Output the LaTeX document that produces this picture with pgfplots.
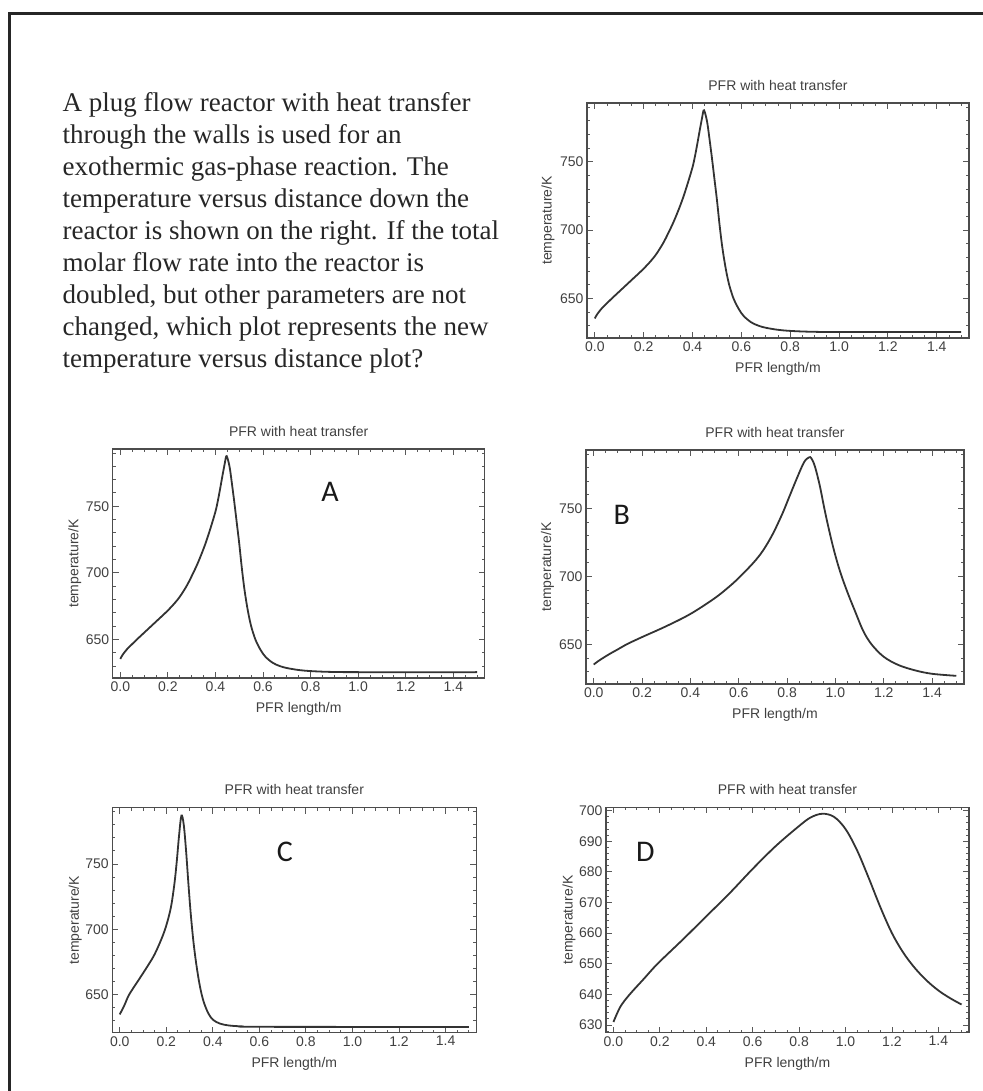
\documentclass[border=0pt]{standalone}
\usepackage{fontspec}
\setmainfont{Liberation Serif}
\setsansfont{Liberation Sans}
\newfontfamily\carlito{Carlito}
\usepackage{pgfplots}
\pgfplotsset{compat=1.18}

\tikzset{letter/.style={font=\carlito\fontsize{30}{30}\selectfont, inner sep=0pt, text=black!90}}

\pgfplotsset{
  pfr/.style={
    scale only axis,
    title={PFR with heat transfer},
    xlabel={PFR length/m},
    ylabel={temperature/K},
    xmin=-0.032, xmax=1.532,
    xtick={0,0.2,0.4,0.6,0.8,1.0,1.2,1.4},
    minor xtick={0.05,0.1,0.15,0.25,0.3,0.35,0.45,0.5,0.55,0.65,0.7,0.75,0.85,0.9,0.95,1.05,1.1,1.15,1.25,1.3,1.35,1.45,1.5},
    tick align=inside,
    major tick length=6pt, minor tick length=3pt,
    tick style={black!65, line width=0.9pt},
    axis line style={black!70, line width=1.2pt},
    /pgf/number format/assume math mode=true,
    tick label style={font=\sffamily\fontsize{14}{16}\selectfont, text=black!75},
    xticklabel style={/pgf/number format/.cd, fixed, fixed zerofill, precision=1},
    every axis title/.style={at={(axis description cs:0.5,1)}, anchor=center, yshift=18pt,
      font=\sffamily\fontsize{14}{16}\selectfont, text=black!75},
    every axis x label/.style={at={(axis description cs:0.5,0)}, anchor=center, yshift=-31pt,
      font=\sffamily\fontsize{14}{16}\selectfont, text=black!75},
    every axis y label/.style={at={(axis description cs:-0.102,0.5)}, anchor=center, rotate=90,
      font=\sffamily\fontsize{14}{16}\selectfont, text=black!75},
    cycle list={{black!80, no marks}},
    every axis plot post/.append style={line width=1.8pt, smooth, tension=0.55},
  },
  peak/.style={ymin=621, ymax=793, ytick={650,700,750},
    minor ytick={630,640,660,670,680,690,710,720,730,740,760,770,780,790}},
}

% original profile, also plot A
\pgfplotstableread{
x T
0 635.3
0.01 638.5
0.03 643
0.05 646.5
0.07 650
0.10 655
0.13 660
0.16 665
0.19 670
0.22 675.5
0.25 682
0.28 690.5
0.30 697.5
0.32 705
0.34 713.5
0.36 723
0.38 734
0.40 746
0.41 754
0.42 763.5
0.43 773.5
0.44 783
0.445 787.5
0.45 786.5
0.46 779
0.47 766
0.48 752
0.49 737
0.50 722
0.51 705
0.52 690
0.53 678
0.54 668
0.55 660
0.56 654
0.57 649
0.59 642
0.61 637
0.64 632.5
0.67 630
0.70 628.5
0.75 627
0.80 626.2
0.88 625.6
1.00 625.4
1.50 625.4
}\base

\pgfplotstableread{
x T
0 635.3
0.02 638
0.06 642.5
0.10 646.5
0.14 650.5
0.20 655.5
0.30 663.5
0.40 672.5
0.50 684
0.56 692.5
0.60 699
0.66 710
0.70 719
0.74 731
0.78 746
0.81 759
0.84 772
0.87 784
0.89 787.5
0.90 787
0.915 781
0.935 767
0.953 751
0.97 737
0.99 722
1.01 709
1.03 698
1.055 686
1.08 675
1.115 660
1.15 650
1.20 641
1.26 635
1.33 631
1.40 628.5
1.50 627
}\optB

\pgfplotstableread{
x T
0 635
0.02 642
0.04 650
0.08 661
0.12 672
0.15 681
0.18 693
0.20 703
0.22 717
0.235 735
0.245 752
0.255 772
0.265 787
0.275 780
0.285 760
0.295 735
0.305 712
0.317 690
0.33 672
0.345 656
0.36 645
0.38 636
0.40 631
0.43 628
0.47 626.5
0.53 625.8
0.60 625.5
1.50 625.4
}\optC

\pgfplotstableread{
x T
0 631
0.03 636
0.07 640
0.13 645
0.19 650
0.30 658
0.40 665.5
0.50 673
0.60 681
0.70 688.5
0.80 695
0.85 697.8
0.90 699
0.95 698
1.00 694
1.05 687
1.10 678
1.15 668.5
1.20 660
1.25 653.5
1.30 648.5
1.35 644.5
1.40 641.3
1.45 638.8
1.50 636.7
}\optD

\begin{document}
\begin{tikzpicture}
\useasboundingbox (0pt,0pt) rectangle (982pt,-1091pt);
\draw[line width=3pt, black!85] (9pt,-1100pt) -- (9pt,-13.5pt) -- (990pt,-13.5pt);

% node baseline = last line
\node[anchor=base west, inner sep=0pt, align=left, text=black!85,
  font=\fontsize{27}{31.9}\selectfont] at (62.5pt,-367pt)
  {A plug flow reactor with heat transfer\\
   through the walls is used for an\\
   exothermic gas-phase reaction. The\\
   temperature versus distance down the\\
   reactor is shown on the right. If the total\\
   molar flow rate into the reactor is\\
   doubled, but other parameters are not\\
   changed, which plot represents the new\\
   temperature versus distance plot?};

% reference plot
\begin{axis}[pfr, peak, at={(587pt,-103pt)}, anchor=north west, width=382pt, height=235pt]
\addplot table[x=x, y=T] {\base};
\end{axis}

% A
\begin{axis}[pfr, peak, at={(112.7pt,-449pt)}, anchor=north west, width=372pt, height=229pt]
\addplot table[x=x, y=T] {\base};
\node[letter] at (axis description cs:0.584,0.8135) {A};
\end{axis}

% B
\begin{axis}[pfr, peak, at={(586pt,-450pt)}, anchor=north west, width=378pt, height=234pt]
\addplot table[x=x, y=T] {\optB};
\node[letter] at (axis description cs:0.0944,0.724) {B};
\end{axis}

% C
\begin{axis}[pfr, peak, at={(112.3pt,-807.7pt)}, anchor=north west, width=364pt, height=225pt]
\addplot table[x=x, y=T] {\optC};
\node[letter] at (axis description cs:0.474,0.805) {C};
\end{axis}

% D
\begin{axis}[pfr, at={(606pt,-807.3pt)}, anchor=north west, width=363pt, height=225.4pt,
  ymin=627.5, ymax=701.1, ytick={630,640,650,660,670,680,690,700},
  minor ytick={628,632,634,636,638,642,644,646,648,652,654,656,658,662,664,666,668,672,674,676,678,682,684,686,688,692,694,696,698,700}]
\addplot table[x=x, y=T] {\optD};
\node[letter] at (axis description cs:0.1087,0.8017) {D};
\end{axis}
\end{tikzpicture}
\end{document}
